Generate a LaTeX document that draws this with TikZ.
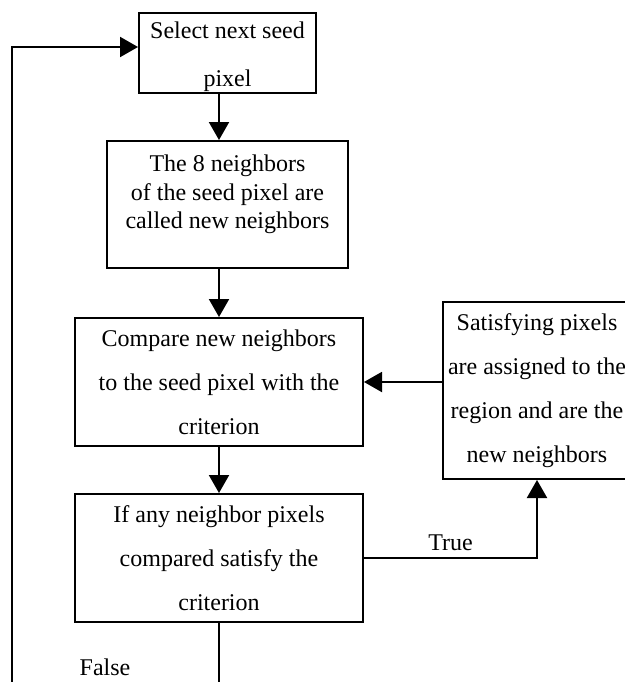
\documentclass[tikz,border=0pt]{standalone}
\usepackage{fontspec}
\setmainfont{Liberation Serif}
\usetikzlibrary{arrows.meta}

\begin{document}
\begin{tikzpicture}[x=0.5pt,y=-0.5pt,
  box/.style={draw,line width=1pt,align=center,inner sep=0pt,font=\fontsize{12}{22}\selectfont},
  link/.style={line width=1pt,-{Triangle[length=9pt,width=10pt]}},
  plain/.style={line width=1pt}]
\useasboundingbox (0,0) rectangle (625,682);
\clip (0,0) rectangle (625,682);
% boxes
\node (sel) at (227.5,53) [box,minimum width=88.5pt,minimum height=40pt,text height=36.5pt,font=\fontsize{12}{24}\selectfont]{Select next seed\\pixel};
\node (nbr) at (227.5,204.5) [box,minimum width=120.5pt,minimum height=63.5pt,text depth=12.5pt,font=\fontsize{12}{14.3}\selectfont]{The 8 neighbors\\of the seed pixel are\\called new neighbors};
\node (cmp) at (219,382) [box,minimum width=144pt,minimum height=64pt]{Compare new neighbors\\to the seed pixel with the\\criterion};
\node (sat) at (537,390.5) [box,minimum width=94pt,minimum height=88.5pt]{Satisfying pixels\\are assigned to the\\region and are the\\new neighbors};
\node (dec) at (219,558) [box,minimum width=144pt,minimum height=64pt]{If any neighbor pixels\\compared satisfy the\\criterion};
\coordinate (back) at (12,720);
% connectors
\draw[link] (sel.south -| dec.north)--(nbr.north -| dec.north);
\draw[link] (nbr.south -| cmp.north)--(cmp.north);
\draw[link] (cmp.south)--(dec.north);
\draw[link] (sat.west |- cmp.east)--(cmp.east);
\draw[link] (dec.east) -| node[above,pos=0.25,font=\fontsize{12}{14}\selectfont]{True} (sat.south);
\draw[plain] (dec.south) |- (back);
\draw[link] (back) |- ([yshift=3pt]sel.west);
\node (no) at (105,667) [font=\fontsize{12}{14}\selectfont]{False};
\end{tikzpicture}
\end{document}
